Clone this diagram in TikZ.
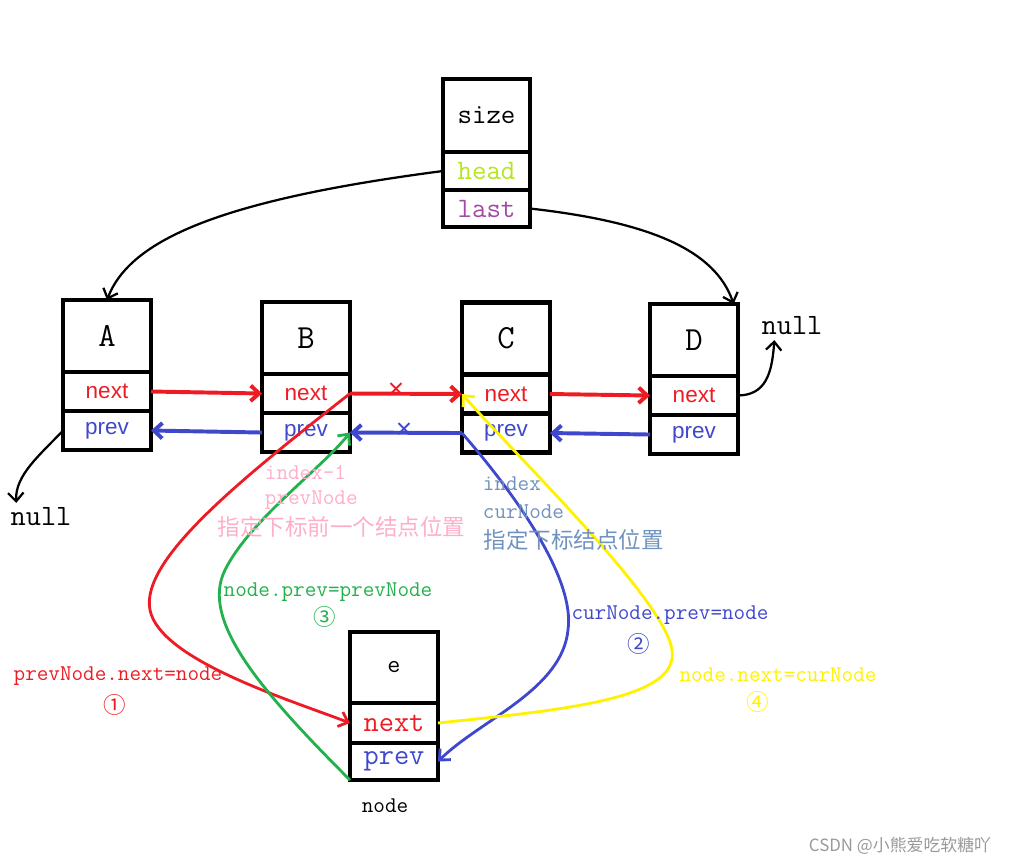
\documentclass[tikz,border=0pt]{standalone}
\usepackage{fontspec}
\setsansfont{Liberation Sans}
\newfontfamily\cjk{Noto Sans CJK SC}
\usepackage{tikz}
\usetikzlibrary{arrows.meta, positioning, calc}
\usepackage{xcolor}
\definecolor{lred}{RGB}{237,28,36}
\definecolor{lblue}{RGB}{63,72,204}
\definecolor{lgreen}{RGB}{34,177,76}
\definecolor{lyellow}{RGB}{255,242,0}
\definecolor{lpink}{RGB}{255,174,201}
\definecolor{lsteel}{RGB}{112,146,190}
\definecolor{lpurple}{RGB}{163,73,164}
\definecolor{lhead}{RGB}{181,230,29}
\tikzset{
  cell/.style={draw, line width=3.5pt, minimum width=2.2cm, inner sep=0pt, outer sep=0pt},
  topcell/.style={cell, minimum height=1.8cm},
  fieldcell/.style={cell, minimum height=0.975cm},
  code/.style={font=\ttfamily\fontsize{16}{18}\selectfont},
  hanzi/.style={font=\cjk\fontsize{16}{18}\selectfont},
  link/.style={line width=2.8pt, ->},
  insert/.style={line width=2pt, ->},
}
\begin{document}
\begin{tikzpicture}[x=0.025cm, y=-0.025cm, >={Straight Barb[length=6pt,width=11pt]}]
  \useasboundingbox (0,0) rectangle (1021,866);
  % list header
  \node[topcell, minimum width=2.175cm, minimum height=1.825cm, font=\ttfamily\fontsize{20}{22}\selectfont] (size) at (486.5,115.5) {size};
  \node[fieldcell, minimum width=2.175cm, minimum height=0.95cm, text=lhead, font=\ttfamily\fontsize{20}{22}\selectfont, below=0pt of size] (head) {head};
  \node[fieldcell, minimum width=2.175cm, minimum height=0.925cm, text=lpurple, font=\ttfamily\fontsize{20}{22}\selectfont, below=0pt of head] (last) {last};
  % list nodes
  \foreach \n/\x/\y in {A/107/336, B/306/338, C/506/338.5, D/694/340} {
    \node[topcell, font=\ttfamily\fontsize{24}{26}\selectfont] (\n) at (\x,\y) {\n};
    \node[fieldcell, text=lred, font=\sffamily\fontsize{16}{18}\selectfont, below=0pt of \n] (\n-next) {next};
    \node[fieldcell, text=lblue, font=\sffamily\fontsize{16}{18}\selectfont, below=0pt of \n-next] (\n-prev) {prev};
  }
  % new node
  \node[topcell, minimum height=1.775cm, font=\ttfamily\fontsize{18}{20}\selectfont] (e) at (394,667.5) {e};
  \node[fieldcell, minimum height=1cm, text=lred, font=\ttfamily\fontsize{21}{23}\selectfont, below=0pt of e] (e-next) {next};
  \node[fieldcell, minimum height=0.925cm, text=lblue, font=\ttfamily\fontsize{21}{23}\selectfont, below=0pt of e-next] (e-prev) {prev};
  \node[font=\ttfamily\fontsize{16}{18}\selectfont] (nodename) at (385,806) {node};
  % nulls
  \node[font=\ttfamily\fontsize{21}{23}\selectfont] (nullD) at (792,326) {null};
  \node[font=\ttfamily\fontsize{21}{23}\selectfont] (nullA) at (41,517) {null};
  % head and last
  \draw[line width=1.6pt, ->] (head.west) .. controls (220,200) and (130,240) .. (A.north);
  \draw[line width=1.6pt, ->] (last.east) .. controls (650,222) and (715,250) .. ($(D.north east)!0.1!(D.north)$);
  \draw[line width=1.6pt, ->] (D-next.east) .. controls (765,395) and (772,375) .. ($(nullD.south west)!0.25!(nullD.south east)$);
  \draw[line width=1.6pt, ->] (A-prev.west) .. controls (40,455) and (15,475) .. ($(nullA.north west)!0.15!(nullA.north east)$);
  % old links
  \draw[lred, link] (A-next.east) -- (B-next.west);
  \draw[lblue, link] (B-prev.west) -- (A-prev.east);
  \draw[lred, link] (B-next.east) -- (C-next.west);
  \draw[lblue, link] (C-prev.west) -- (B-prev.east);
  \draw[lred, link] (C-next.east) -- (D-next.west);
  \draw[lblue, link] (D-prev.west) -- (C-prev.east);
  \node[text=lred, font=\sffamily\fontsize{20}{20}\selectfont] (cutN) at (396,391) {×};
  \node[text=lblue, font=\sffamily\fontsize{20}{20}\selectfont] (cutP) at (404,431) {×};
  % insert steps
  \draw[lred, insert] (B-next.east) .. controls (240,480) and (140,560) .. (150,610) .. controls (160,660) and (290,700) .. (e-next.west);
  \draw[lblue, insert] (C-prev.west) .. controls (520,500) and (575,580) .. (568,630) .. controls (562,690) and (480,720) .. (e-prev.east);
  \draw[lgreen, insert] (e-prev.south west) .. controls (260,690) and (200,620) .. (225,570) .. controls (250,520) and (320,470) .. (B-prev.east);
  \draw[lyellow, insert] (e-next.east) .. controls (560,710) and (680,700) .. (672,650) .. controls (665,600) and (520,460) .. (C-next.west);
  % labels
  \node[code, text=lpink, anchor=west] (idxB) at (260,473) {index-1};
  \node[code, text=lpink, anchor=west] (prevB) at (260,500) {prevNode};
  \node[hanzi, text=lpink, anchor=west] (posB) at (213,527) {指定下标前一个结点位置};
  \node[code, text=lsteel, anchor=west] (idxC) at (478,484) {index};
  \node[code, text=lsteel, anchor=west] (curC) at (478,512) {curNode};
  \node[hanzi, text=lsteel, anchor=west] (posC) at (479,540) {指定下标结点位置};
  \node[code, text=lred] (lab1) at (118,676) {prevNode.next=node};
  \node[hanzi, text=lred] (num1) at (115,705) {①};
  \node[code, text=lblue] (lab2) at (670,615) {curNode.prev=node};
  \node[hanzi, text=lblue] (num2) at (639,644) {②};
  \node[code, text=lgreen] (lab3) at (328,592) {node.prev=prevNode};
  \node[hanzi, text=lgreen] (num3) at (325,617) {③};
  \node[code, text=lyellow] (lab4) at (778,675) {node.next=curNode};
  \node[hanzi, text=lyellow] (num4) at (758,702) {④};
  % watermark
  \node[font=\cjk\fontsize{12}{14}\selectfont, text=gray!80] (mark) at (900,846) {CSDN @小熊爱吃软糖吖};
\end{tikzpicture}
\end{document}
